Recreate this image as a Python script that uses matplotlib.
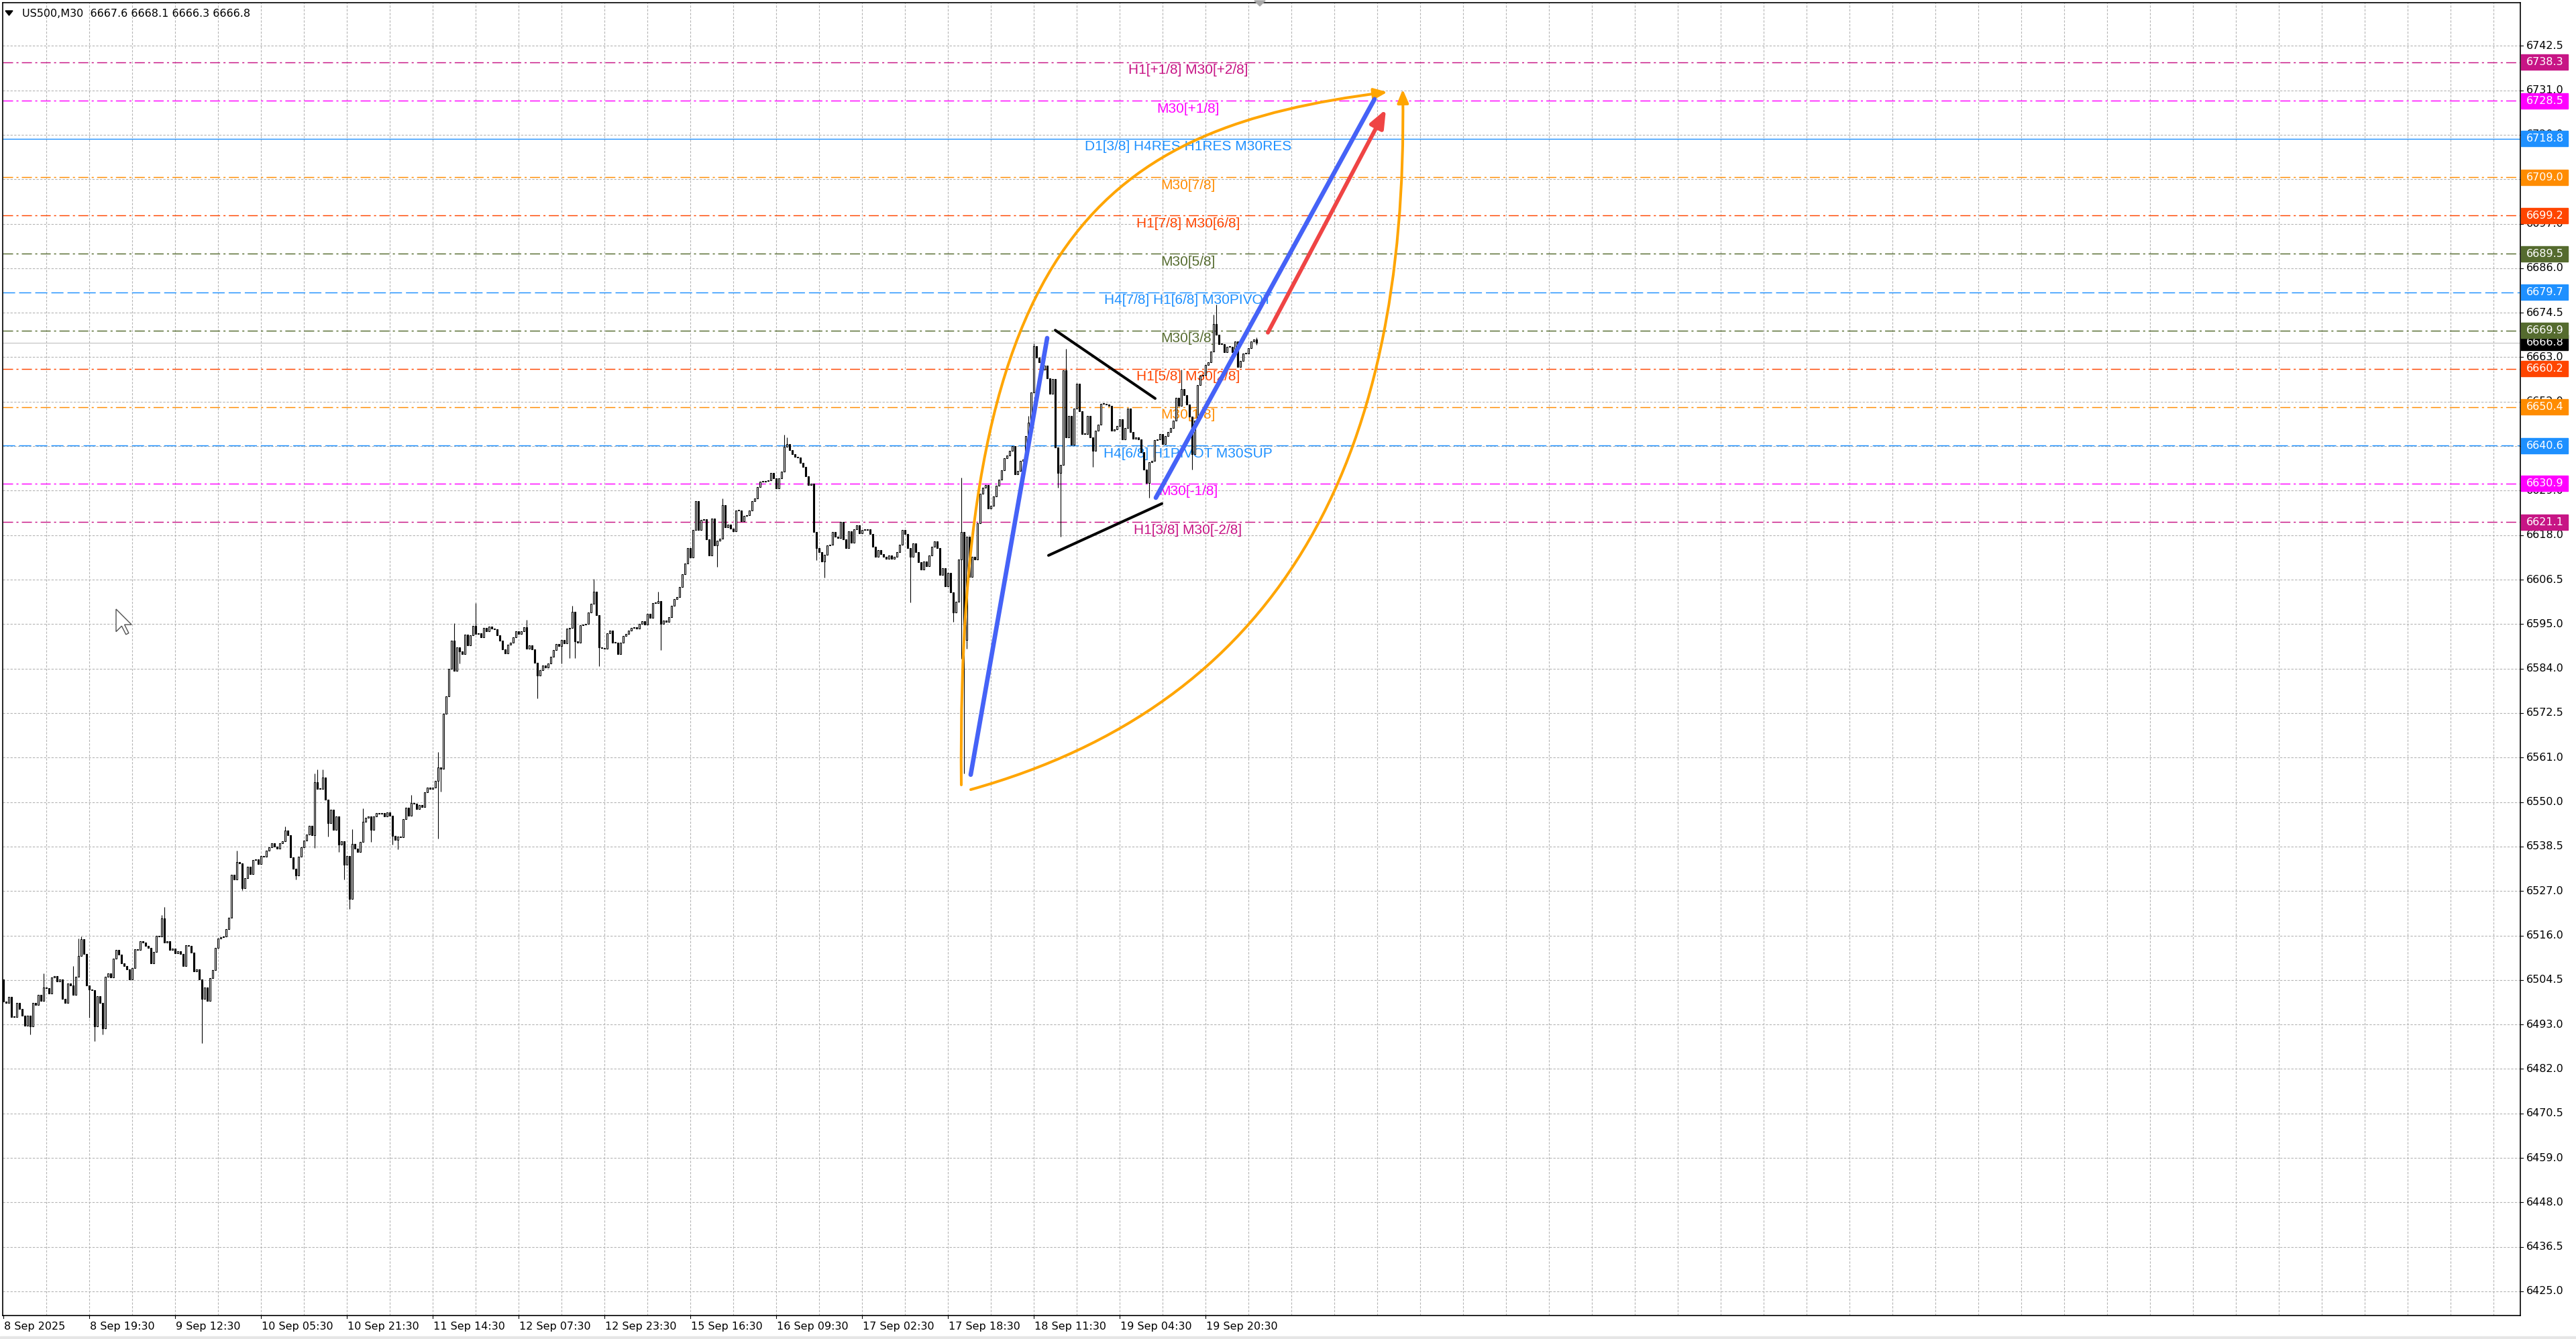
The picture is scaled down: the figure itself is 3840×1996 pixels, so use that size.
"""US500 M30 chart with Murrey-style levels, redrawn from a MetaTrader screenshot."""
import numpy as np
import matplotlib
matplotlib.use("Agg")
import matplotlib.pyplot as plt
from matplotlib.path import Path
from matplotlib.patches import FancyArrowPatch, Polygon, Rectangle

plt.rcParams["lines.scale_dashes"] = False

# ---- candles (bar 0 = leftmost) ----
FIRST_OPEN = 6504.5
closes = [
    6498.8, 6498.5, 6500.0, 6495.0, 6495.0, 6498.5, 6497.0, 6495.3, 6492.8, 6495.2,
    6492.5, 6498.5, 6498.0, 6500.5, 6499.0, 6502.5, 6502.3, 6501.0, 6505.0, 6505.3,
    6504.0, 6504.5, 6499.5, 6498.5, 6503.5, 6503.0, 6500.5, 6505.2, 6510.5, 6514.8,
    6511.0, 6503.0, 6502.0, 6501.8, 6492.5, 6500.2, 6498.5, 6492.0, 6505.2, 6506.0,
    6505.0, 6509.8, 6512.0, 6510.8, 6508.7, 6508.0, 6507.0, 6504.5, 6507.5, 6512.2,
    6512.0, 6514.3, 6514.0, 6513.0, 6512.5, 6508.6, 6511.6, 6515.6, 6515.4, 6520.0,
    6514.0, 6514.2, 6512.0, 6512.3, 6511.2, 6511.7, 6511.0, 6508.0, 6513.2, 6513.0,
    6511.3, 6506.5, 6507.0, 6504.5, 6499.6, 6502.5, 6499.0, 6504.8, 6506.9, 6512.5,
    6514.9, 6515.3, 6515.4, 6517.3, 6520.3, 6531.2, 6530.0, 6534.4, 6534.1, 6527.7,
    6530.4, 6533.3, 6531.3, 6535.0, 6535.2, 6534.0, 6536.0, 6535.8, 6537.3, 6538.2,
    6539.3, 6538.3, 6537.8, 6539.2, 6539.8, 6542.4, 6541.3, 6535.7, 6532.7, 6531.0,
    6535.8, 6538.2, 6539.9, 6541.5, 6543.7, 6541.3, 6554.8, 6553.0, 6553.0, 6556.0,
    6550.4, 6544.4, 6547.8, 6542.7, 6546.0, 6538.8, 6539.8, 6533.7, 6536.0, 6525.0,
    6539.0, 6537.8, 6537.0, 6539.5, 6544.7, 6545.8, 6546.1, 6542.6, 6546.1, 6547.0,
    6546.8, 6546.9, 6546.0, 6547.1, 6546.2, 6541.1, 6540.0, 6541.0, 6540.7, 6545.4,
    6548.3, 6546.2, 6549.5, 6549.3, 6548.0, 6549.0, 6548.4, 6552.2, 6553.5, 6553.0,
    6553.5, 6555.2, 6558.5, 6558.2, 6572.3, 6576.6, 6583.7, 6590.8, 6583.2, 6589.1,
    6588.2, 6587.5, 6592.4, 6589.7, 6592.2, 6594.7, 6592.6, 6592.8, 6591.8, 6594.1,
    6593.3, 6594.5, 6594.0, 6593.7, 6592.2, 6590.8, 6588.7, 6587.6, 6589.9, 6590.4,
    6591.7, 6593.3, 6592.5, 6593.3, 6594.3, 6588.9, 6589.7, 6588.6, 6585.2, 6582.0,
    6583.4, 6584.6, 6584.0, 6585.0, 6586.7, 6588.5, 6590.0, 6589.5, 6591.1, 6590.1,
    6593.9, 6594.2, 6598.3, 6590.7, 6590.3, 6594.8, 6594.9, 6595.1, 6598.0, 6600.3,
    6603.4, 6597.3, 6589.1, 6589.0, 6588.8, 6592.8, 6593.4, 6590.4, 6590.4, 6587.4,
    6590.4, 6592.0, 6592.6, 6593.5, 6594.1, 6594.3, 6593.9, 6595.2, 6595.8, 6595.0,
    6597.7, 6596.7, 6600.5, 6600.4, 6600.9, 6595.1, 6596.0, 6595.7, 6596.8, 6599.8,
    6601.4, 6602.0, 6604.5, 6607.8, 6610.5, 6614.5, 6612.0, 6619.0, 6626.5, 6619.0,
    6621.7, 6621.9, 6616.7, 6612.6, 6622.0, 6615.1, 6616.3, 6616.8, 6625.4, 6619.7,
    6620.5, 6619.4, 6618.7, 6624.0, 6624.0, 6621.3, 6622.6, 6622.8, 6624.0, 6626.5,
    6627.2, 6630.1, 6631.4, 6631.4, 6631.6, 6631.8, 6633.6, 6632.2, 6629.7, 6632.2,
    6634.0, 6640.3, 6640.9, 6639.5, 6638.4, 6637.8, 6637.5, 6636.1, 6635.2, 6632.7,
    6630.5, 6630.9, 6618.5, 6614.5, 6613.5, 6611.0, 6612.7, 6615.1, 6615.4, 6618.5,
    6617.4, 6617.1, 6621.1, 6616.7, 6614.5, 6618.8, 6615.8, 6619.2, 6620.3, 6618.3,
    6619.1, 6619.0, 6619.2, 6618.0, 6614.8, 6612.3, 6613.9, 6613.0, 6612.2, 6611.7,
    6612.5, 6611.7, 6612.3, 6613.4, 6615.4, 6619.1, 6618.0, 6614.4, 6612.3, 6615.6,
    6613.4, 6610.8, 6609.0, 6611.0, 6609.9, 6612.5, 6614.8, 6616.1, 6614.4, 6607.6,
    6609.4, 6604.8, 6608.2, 6603.1, 6598.0, 6600.8, 6611.6, 6618.5, 6591.1, 6617.3,
    6607.1, 6612.2, 6611.6, 6620.8, 6628.3, 6629.8, 6630.6, 6624.5, 6625.3, 6627.6,
    6630.4, 6631.9, 6634.3, 6637.3, 6638.1, 6639.3, 6640.4, 6633.3, 6634.2, 6636.7,
    6637.0, 6643.0, 6646.4, 6654.1, 6666.0, 6663.1, 6661.8, 6660.0, 6661.0, 6657.7,
    6653.8, 6657.5, 6640.2, 6633.6, 6635.6, 6659.8, 6642.7, 6648.1, 6640.8, 6650.1,
    6656.4, 6649.3, 6643.6, 6643.5, 6648.1, 6642.7, 6639.3, 6644.4, 6646.0, 6651.3,
    6651.3, 6651.0, 6650.8, 6644.4, 6644.7, 6645.6, 6647.3, 6642.1, 6645.0, 6650.1,
    6644.1, 6642.4, 6642.6, 6642.1, 6639.0, 6634.4, 6631.0, 6636.4, 6636.7, 6642.0,
    6642.1, 6643.6, 6641.0, 6643.0, 6644.1, 6645.0, 6647.0, 6652.7, 6650.7, 6655.0,
    6653.5, 6651.0, 6648.0, 6638.4, 6647.0, 6656.1, 6658.4, 6658.6, 6661.2, 6661.8,
    6664.6, 6671.5, 6668.9, 6666.4, 6666.5, 6664.4, 6665.8, 6665.7, 6664.4, 6667.2,
    6660.7, 6662.1, 6664.1, 6664.0, 6665.5, 6667.2, 6667.6, 6666.8,
]
# visible wick extremes (bar index -> price)
highs = {15: 6506.0, 26: 6507.9, 28: 6515.0, 29: 6515.5, 59: 6521.0, 60: 6523.0,
         87: 6537.3, 105: 6543.5, 116: 6557.0, 117: 6558.0, 119: 6558.0, 130: 6542.9,
         134: 6548.1, 152: 6551.5, 162: 6562.4, 168: 6595.3, 176: 6600.5, 195: 6596.2,
         212: 6599.8, 220: 6606.6, 244: 6603.3, 268: 6627.2, 291: 6643.3, 292: 6642.7,
         357: 6632.4, 382: 6648.1, 384: 6666.6, 396: 6665.2, 439: 6660.0, 451: 6673.9,
         452: 6676.6, 467: 6668.1}
lows = {10: 6490.5, 32: 6494.8, 34: 6488.8, 37: 6490.5, 74: 6488.2, 89: 6527.2,
        109: 6530.0, 116: 6538.1, 121: 6541.0, 125: 6537.0, 127: 6530.0, 129: 6522.5,
        137: 6539.5, 145: 6538.8, 147: 6537.7, 162: 6540.4, 163: 6552.4, 170: 6585.0,
        199: 6576.2, 208: 6585.0, 211: 6586.5, 213: 6586.5, 222: 6584.4, 245: 6588.4,
        266: 6609.7, 303: 6611.4, 306: 6606.9, 338: 6600.6, 354: 6595.7, 357: 6586.3,
        358: 6557.0, 359: 6588.9, 393: 6629.9, 394: 6617.3, 406: 6635.2, 427: 6627.3,
        443: 6634.4, 467: 6666.3}

TITLE = "US500,M30  6667.6 6668.1 6666.3 6666.8"
LAST_PRICE = 6666.8

date_labels = ["8 Sep 2025", "8 Sep 19:30", "9 Sep 12:30", "10 Sep 05:30", "10 Sep 21:30",
               "11 Sep 14:30", "12 Sep 07:30", "12 Sep 23:30", "15 Sep 16:30", "16 Sep 09:30",
               "17 Sep 02:30", "17 Sep 18:30", "18 Sep 11:30", "19 Sep 04:30", "19 Sep 20:30"]
BARS_PER_DATE = 32
BARS_PER_VGRID = 16

price_labels = ["6425.0", "6436.5", "6448.0", "6459.0", "6470.5", "6482.0", "6493.0",
                "6504.5", "6516.0", "6527.0", "6538.5", "6550.0", "6561.0", "6572.5",
                "6584.0", "6595.0", "6606.5", "6618.0", "6629.0", "6640.5", "6652.0",
                "6663.0", "6674.5", "6686.0", "6697.0", "6708.5", "6720.0", "6731.0",
                "6742.5"]
PRICE_LO, PRICE_HI = 6425.0, 6742.5

level_prices = [6738.3, 6728.5, 6718.8, 6709.0, 6699.2, 6689.5, 6679.7,
                6669.9, 6660.2, 6650.4, 6640.6, 6630.9, 6621.1]
level_names = ["H1[+1/8] M30[+2/8]", "M30[+1/8]", "D1[3/8] H4RES H1RES M30RES", "M30[7/8]",
               "H1[7/8] M30[6/8]", "M30[5/8]", "H4[7/8] H1[6/8] M30PIVOT", "M30[3/8]",
               "H1[5/8] M30[2/8]", "M30[1/8]", "H4[6/8] H1PIVOT M30SUP", "M30[-1/8]",
               "H1[3/8] M30[-2/8]"]
level_colors = ["#C71585", "#FF00FF", "#1E90FF", "#FF8C00", "#FF4500", "#556B2F", "#1E90FF",
                "#556B2F", "#FF4500", "#FF8C00", "#1E90FF", "#FF00FF", "#C71585"]
level_styles = ["dashdot", "dashdot", "solid", "dashdot", "dashdot", "dashdot", "dashed",
                "dashdot", "dashdot", "dashdot", "dashed", "dashdot", "dashdot"]
LABEL_BAR = 441.5

# hand drawn objects, (bar, price)
arc_left = [(357.0, 6554.1), (355.0, 6694.3), (411.25, 6721.7), (515.75, 6730.7)]
arc_right = [(360.5, 6552.9), (473.75, 6574.6), (523.75, 6634.5), (521.5, 6731.4)]
blue_lines = [[(360.5, 6556.7), (389.0, 6668.0)], [(429.5, 6627.3), (511.0, 6728.9)]]
black_lines = [[(392.0, 6670.0), (429.25, 6652.6)], [(389.5, 6612.6), (431.75, 6625.8)]]
red_arrow = [(471.25, 6669.4), (515.25, 6726.3)]

# ---- layout in pixels ----
W, H, DPI = 3840, 1996, 100
L, R, T, B = 4, 3757, 4, 1961
X0, BAR_PX = 5.0, 4.0
Y_REF, PX_PER_PT = 1925.0, 5.848
GRID = "#B4B4B4"

fig = plt.figure(figsize=(W / DPI, H / DPI), dpi=DPI)
fig.patch.set_facecolor("white")
ax = fig.add_axes([L / W, 1 - B / H, (R - L) / W, (B - T) / H])
xlim = ((L - X0) / BAR_PX, (R - X0) / BAR_PX)
ylim = (PRICE_LO - (B - Y_REF) / PX_PER_PT, PRICE_LO + (Y_REF - T) / PX_PER_PT)
ax.set_xlim(*xlim)
ax.set_ylim(*ylim)
ax.set_xticks([])
ax.set_yticks([])
for s in ax.spines.values():
    s.set_color("black")
    s.set_linewidth(1.2)

# grid
tick_pos = np.linspace(PRICE_LO, PRICE_HI, len(price_labels))
for p in tick_pos:
    ax.axhline(p, color=GRID, lw=0.8, dashes=(2.4, 1.6), zorder=0)
for b in np.arange(BARS_PER_VGRID, xlim[1], BARS_PER_VGRID):
    ax.axvline(b, color=GRID, lw=0.8, dashes=(2.4, 1.6), zorder=0)

# levels
dash_map = {"dashdot": (10.8, 3.6, 2.2, 3.6), "dashed": (13.0, 4.3)}
for p, name, col, st in zip(level_prices, level_names, level_colors, level_styles):
    if st == "solid":
        ax.axhline(p, color=col, lw=1.0, zorder=1)
    else:
        ax.axhline(p, color=col, lw=1.05, dashes=dash_map[st], zorder=1)
    ax.text(LABEL_BAR, p - 12 / PX_PER_PT, name, color=col, fontsize=15,
            family="Liberation Sans", ha="center", va="center", zorder=3)
ax.axhline(LAST_PRICE, color="#C0C0C0", lw=0.8, zorder=1)

# candles
c = np.array(closes)
o = np.concatenate([[FIRST_OPEN], c[:-1]])
idx = np.arange(len(c))
hi = np.maximum(o, c)
lo = np.minimum(o, c)
for i, v in highs.items():
    hi[i] = max(hi[i], v)
for i, v in lows.items():
    lo[i] = min(lo[i], v)
ax.vlines(idx, lo, hi, color="black", lw=0.8, zorder=4)
bull = c >= o
bottom = np.minimum(o, c)
height = np.maximum(np.abs(c - o), 0.17)
ax.bar(idx[bull], height[bull], bottom=bottom[bull], width=0.65, facecolor="white",
       edgecolor="black", linewidth=0.8, zorder=4.2)
ax.bar(idx[~bull], height[~bull], bottom=bottom[~bull], width=0.65, facecolor="black",
       edgecolor="black", linewidth=0.8, zorder=4.2)

# drawings
ORANGE = "#FFA500"
curve = [Path.MOVETO, Path.CURVE4, Path.CURVE4, Path.CURVE4]
for pts in (arc_left, arc_right):
    ax.add_patch(FancyArrowPatch(path=Path(pts, curve),
                                 arrowstyle="-|>,head_length=1.2,head_width=0.5",
                                 mutation_scale=10, color=ORANGE, lw=2.9, zorder=5))
for seg in blue_lines:
    xs, ys = zip(*seg)
    ax.plot(xs, ys, color="#4562F7", lw=4.8, solid_capstyle="round", zorder=5.2)
for seg in black_lines:
    xs, ys = zip(*seg)
    ax.plot(xs, ys, color="black", lw=2.9, solid_capstyle="round", zorder=5.2)
ax.add_patch(FancyArrowPatch(red_arrow[0], red_arrow[1],
                             arrowstyle="-|>,head_length=1.6,head_width=0.65",
                             mutation_scale=10, color="#EF4444", lw=4.3,
                             shrinkA=0, shrinkB=0, capstyle="round", zorder=5.3))

# right price axis
rax = fig.add_axes([R / W, 1 - B / H, (W - R) / W, (B - T) / H])
rax.set_xlim(R, W)
rax.set_ylim(*ylim)
rax.axis("off")
for p, lab in zip(tick_pos, price_labels):
    rax.plot([R, R + 4], [p, p], color="black", lw=0.8, zorder=1)
    rax.text(3766, p, lab, fontsize=11.5, family="DejaVu Sans", ha="left", va="center",
             color="black", zorder=1)
box_h = 23 / PX_PER_PT
rax.add_patch(Rectangle((3758, LAST_PRICE - box_h / 2), 70, box_h, color="black", zorder=3))
rax.text(3766, LAST_PRICE, f"{LAST_PRICE:.1f}", fontsize=11.5, family="DejaVu Sans",
         ha="left", va="center", color="white", zorder=3.1)
for p, col in zip(level_prices, level_colors):
    rax.add_patch(Rectangle((3758, p - box_h / 2), 70, box_h, color=col, zorder=3.5))
    rax.text(3766, p, f"{p:.1f}", fontsize=11.5, family="DejaVu Sans", ha="left",
             va="center", color="white", zorder=3.6)

# bottom time axis
bax = fig.add_axes([L / W, 0, (R - L) / W, (H - B) / H])
bax.set_xlim(*xlim)
bax.set_ylim(H, B)
bax.axis("off")
for k, lab in enumerate(date_labels):
    b = k * BARS_PER_DATE
    bax.plot([b, b], [B, B + 4], color="black", lw=0.8)
    bax.text(b + 0.25, 1977, lab, fontsize=11.5, family="DejaVu Sans", ha="left",
             va="center", color="black", clip_on=False)

# overlay: title, window decorations, mouse cursor
oax = fig.add_axes([0, 0, 1, 1])
oax.set_xlim(0, W)
oax.set_ylim(H, 0)
oax.axis("off")
oax.add_patch(Polygon([(8, 16), (19, 16), (13.5, 23)], closed=True, color="black"))
oax.text(33, 20, TITLE, fontsize=11.5, family="DejaVu Sans", ha="left", va="center")
oax.add_patch(Polygon([(1870, 1), (1886, 1), (1878, 9)], closed=True, color="#A8A8A8"))
oax.add_patch(Rectangle((0, 1992), W, 4, color="#E6E6E6"))
cur = np.array([(0, 0), (0, 16), (4, 12), (7, 18), (9, 17), (6, 11), (11, 11)]) * 2.1
oax.add_patch(Polygon(cur + (173, 908), closed=True, facecolor="white",
                      edgecolor="#505050", lw=1.0))

fig.savefig("out.png", dpi=DPI, facecolor="white")
